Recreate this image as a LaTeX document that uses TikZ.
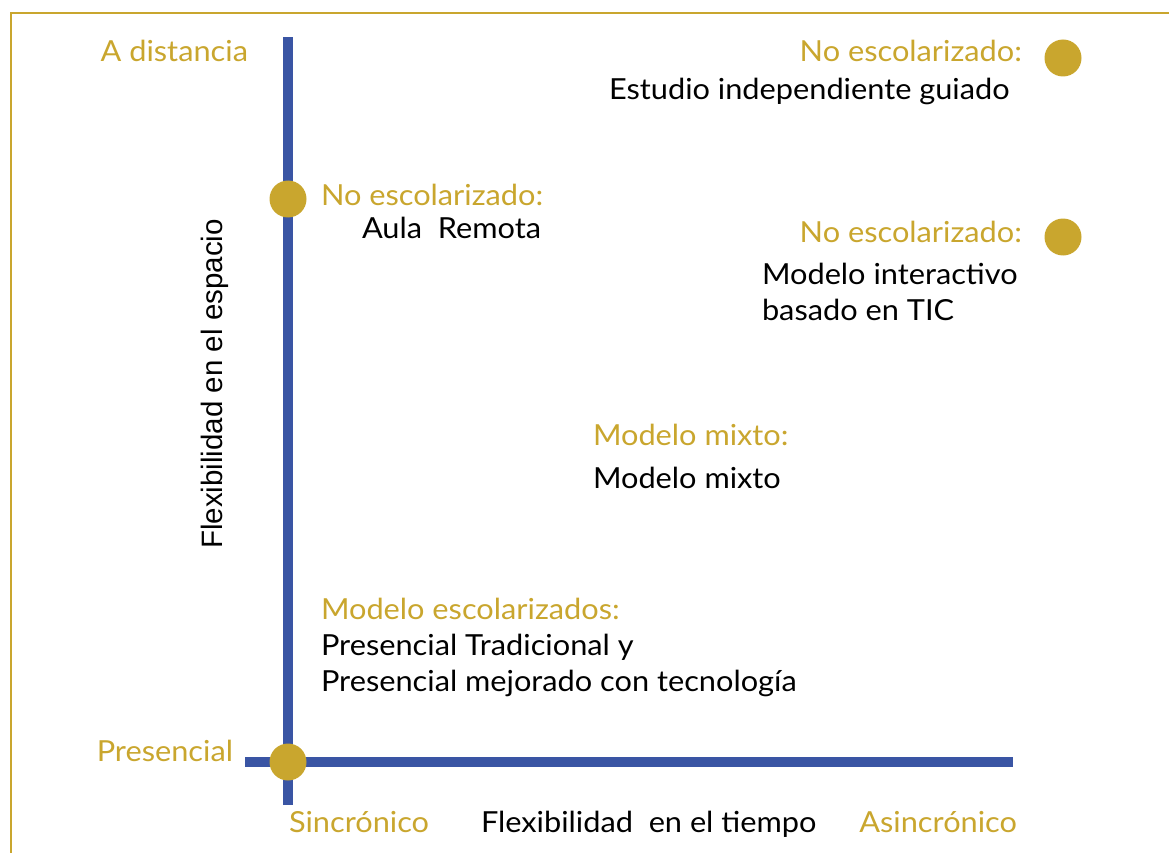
\documentclass[tikz,border=0pt]{standalone}
\usepackage{fontspec}
\setmainfont{Lato}[FakeStretch=1.06]
\newfontfamily\axisfont{Liberation Sans}
\usetikzlibrary{
  positioning
}
\definecolor{modelgold}{HTML}{C9A62E}
\definecolor{axisblue}{HTML}{3A55A4}
\tikzset{
  % Shared values that are assigned to different keys in the styles below.
  globals/axis width/.initial=10pt,
  globals/dot size/.initial=37pt,
  globals/text size/.initial=29pt,
%
  % For the thin frame round the picture.
  frame line/.style={
    draw=modelgold,
    line width=1.5pt},
%
  % For the two thick axes.
  axis/.style={
    draw=axisblue,
    line width=\pgfkeysvalueof{/tikz/globals/axis width}},
%
  % For the round markers.
  dot/.style={
    circle,
    fill=modelgold,
    draw=none,
    minimum size=\pgfkeysvalueof{/tikz/globals/dot size},
    inner sep=0pt,
    outer sep=0pt},
%
  % For all texts.
  label text/.style={
    inner sep=0pt,
    outer sep=0pt,
    font={\fontsize{\pgfkeysvalueof{/tikz/globals/text size}}{35pt}\selectfont}},
%
  % For gold titles and pole names.
  heading/.style={
    label text,
    text=modelgold},
%
  % For black descriptions.
  entry/.style={
    label text,
    text=black,
    anchor=base west},
%
  % For the rotated name of the vertical axis.
  axis name/.style={
    inner sep=0pt,
    rotate=90,
    anchor=base,
    font={\axisfont\fontsize{29.5pt}{35pt}\selectfont}}
}

\begin{document}
\begin{tikzpicture}[x=1pt, y=-1pt]
  \useasboundingbox (0,0) rectangle (1169,853);

  % Frame, cut by the page on the right and at the bottom.
  \draw[frame line] (11,853) -- (11,13) -- (1169,13);

  % Axes.
  \coordinate (space top)    at (288,37);
  \coordinate (space bottom) at (288,805);
  \coordinate (time left)    at (245,762);
  \coordinate (time right)   at (1013,762);
  \draw[axis] (space bottom) -- (space top);
  \draw[axis] (time left) -- (time right);

  % Markers.
  \node[dot] (dot origin)  at (288,762) {};
  \node[dot] (dot remote)  at (288,199) {};
  \node[dot] (dot guided)  at (1063,58) {};
  \node[dot] (dot ict)     at (1063,237) {};

  % Poles of the axes.
  \node[heading, anchor=base east] (far)      at (248,62)   {A distancia};
  \node[heading, anchor=base east] (present)  at (233,761)  {Presencial};
  \node[heading, anchor=base west] (sync)     at (289,832)  {Sincrónico};
  \node[heading, anchor=base east] (async)    at (1017,832) {Asincrónico};
  \node[entry]                     (time)     at (481,832)  {Flexibilidad~~en el tiempo};
  \node[axis name]                 (space)    at (222,384)  {Flexibilidad en el espacio};

  % Models.
  \node[heading, anchor=base west] (remote title) at (321,205) {No escolarizado:};
  \node[entry] (remote) at (362,238) {Aula~~Remota};

  \node[heading, anchor=base east] (guided title) at (1022,62) {No escolarizado:};
  \node[entry] (guided) at (609,100) {Estudio independiente guiado};

  \node[heading, anchor=base east] (ict title) at (1022,242) {No escolarizado:};
  \node[entry] (ict a) at (762,284) {Modelo interactivo};
  \node[entry] (ict b) at (762,320) {basado en TIC};

  \node[heading, anchor=base west] (mixed title) at (593,445) {Modelo mixto:};
  \node[entry] (mixed) at (593,488) {Modelo mixto};

  \node[heading, anchor=base west] (school title) at (321,619) {Modelo escolarizados:};
  \node[entry] (school a) at (321,655) {Presencial Tradicional y};
  \node[entry] (school b) at (321,691) {Presencial mejorado con tecnología};
\end{tikzpicture}
\end{document}
